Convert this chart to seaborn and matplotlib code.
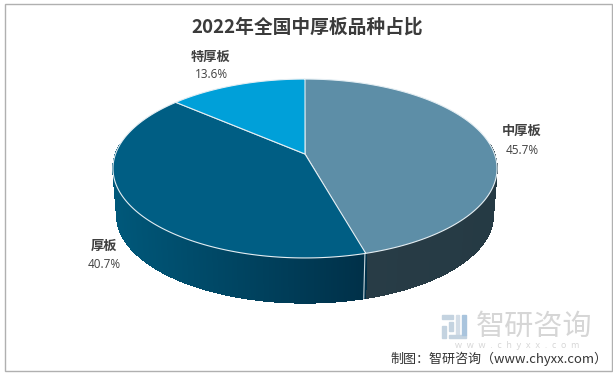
import numpy as np
import pandas as pd
import matplotlib
matplotlib.use('Agg')
import matplotlib.pyplot as plt
import matplotlib.colors as mcolors
from matplotlib.collections import PolyCollection
from matplotlib.patches import Polygon, Rectangle
import seaborn as sns

categorias = ['中厚板', '厚板', '特厚板']
valores = [45.7, 40.7, 13.6]
rotulos = ['45.7%', '40.7%', '13.6%']
cores_topo = ['#5d8ea7', '#005e84', '#00a0d9']
cores_lado_ini = ['#283c46', '#003048', '#00a0d9']
cores_lado_fim = ['#253a44', '#00587a', '#00a0d9']

titulo = '2022年全国中厚板品种占比'
fonte = '制图：智研咨询（www.chyxx.com）'

sns.set_theme(style='white')
plt.rcParams['font.family'] = ['Noto Sans CJK SC', 'DejaVu Sans']

# perspective of the disc, in pixels
CX, CY = 305, 154
A, B, K = 189.5, 87.1, 0.162
PROF, ESC = 47, 0.98


def projetar(theta, base=False):
    u, v = np.cos(np.radians(theta)), np.sin(np.radians(theta))
    w = 1 + K * v
    x, y = A * u / w, -B * v / w
    if base:
        return CX + ESC * x, CY + ESC * y + PROF
    return CX + x, CY + y


df = pd.DataFrame({'categoria': categorias, 'valor': valores})

fig = plt.figure(figsize=(6.13, 3.74), dpi=100)
ax = fig.add_axes([0, 0, 1, 1])
wedges, _ = ax.pie(df['valor'], startangle=90, counterclock=False, normalize=True)
fatias = [(w.theta1, w.theta2) for w in wedges]
for w in wedges:
    w.remove()
ax.set_aspect('auto')
ax.set_xlim(0, 613)
ax.set_ylim(374, 0)
ax.axis('off')

# side wall, only the part facing the viewer
for i, (t1, t2) in enumerate(fatias):
    ts = np.arange(t1, t2 + 0.5, 0.5)
    ts = ts[np.sin(np.radians(ts)) < 0.12]
    if len(ts) < 2:
        continue
    xs, _ = projetar(ts)
    frac = (xs - xs.min()) / max(np.ptp(xs), 1)
    c1 = np.array(mcolors.to_rgb(cores_lado_ini[i]))
    c2 = np.array(mcolors.to_rgb(cores_lado_fim[i]))
    quads, cols = [], []
    for j in range(len(ts) - 1):
        xa, ya = projetar(ts[j])
        xb, yb = projetar(ts[j + 1])
        xc, yc = projetar(ts[j + 1], base=True)
        xd, yd = projetar(ts[j], base=True)
        quads.append([(xa, ya), (xb, yb), (xc, yc), (xd, yd)])
        # gradient runs with x: dark next to the seam, lighter away from it
        f = 1 - frac[j]
        if i == 0:
            f = 1 - f
        cols.append(c1 + (c2 - c1) * f)
    ax.add_collection(PolyCollection(quads, facecolors=cols, edgecolors=cols, linewidths=0.4,
                                     antialiaseds=False, zorder=2))

# white seam on the wall
for i, (t1, t2) in enumerate(fatias):
    if np.sin(np.radians(t1)) < 0:
        xa, ya = projetar(t1)
        xb, yb = projetar(t1, base=True)
        ax.plot([xa, xb], [ya, yb], color='#c9d6dc', lw=0.8, zorder=3)

# top of the pie
for i, (t1, t2) in enumerate(fatias):
    ts = np.arange(t1, t2 + 0.25, 0.25)
    xs, ys = projetar(ts)
    pts = np.vstack([[CX, CY], np.column_stack([xs, ys])])
    ax.add_patch(Polygon(pts, closed=True, facecolor=cores_topo[i], edgecolor='#e4eef3', lw=0.8, zorder=4))

# labels
pos_rotulos = [(522, 131, 150), (104, 246, 264), (211, 57, 74)]
for cat, rot, (x, y1, y2) in zip(categorias, rotulos, pos_rotulos):
    ax.text(x, y1, cat, ha='center', va='center', fontsize=9.5,
            fontweight='bold', color='#404040', zorder=6)
    ax.text(x, y2, rot, ha='center', va='center', fontsize=8.5, color='#404040',
            family=['Open Sans', 'DejaVu Sans'], zorder=6)

ax.text(307, 27, titulo, ha='center', va='center', fontsize=13.5, fontweight='bold', color='#3b3b3b')

# watermark
logo = '#c4d3e0'
ax.add_patch(Rectangle((442, 315), 11, 4, color=logo))
ax.add_patch(Rectangle((442, 326), 4, 12, color=logo))
ax.add_patch(Rectangle((449, 322), 4, 9, color=logo))
ax.add_patch(Rectangle((456, 315), 3, 20, color='#d3dde7'))
ax.add_patch(Rectangle((449, 335), 17, 3, color=logo))
ax.add_patch(Rectangle((462, 315), 4, 20, color='#a9c4dd'))
ax.text(534, 327, '智研咨询', ha='center', va='center', fontsize=21, color='#d6d6d6')
ax.text(517, 345, 'w  w  w  .  c  h  y  x  x  .  c  o  m', ha='center', va='center', fontsize=6.5, color='#d6d6d6',
        family=['Open Sans', 'DejaVu Sans'])
ax.text(499, 359, fonte, ha='center', va='center', fontsize=9.4, color='#333333')

# outer frame
ax.add_patch(Rectangle((4.5, 3.5), 607, 367, fill=False, edgecolor='#b0b0b0', lw=1, zorder=1))

fig.savefig('out.png', dpi=100)
plt.close()
